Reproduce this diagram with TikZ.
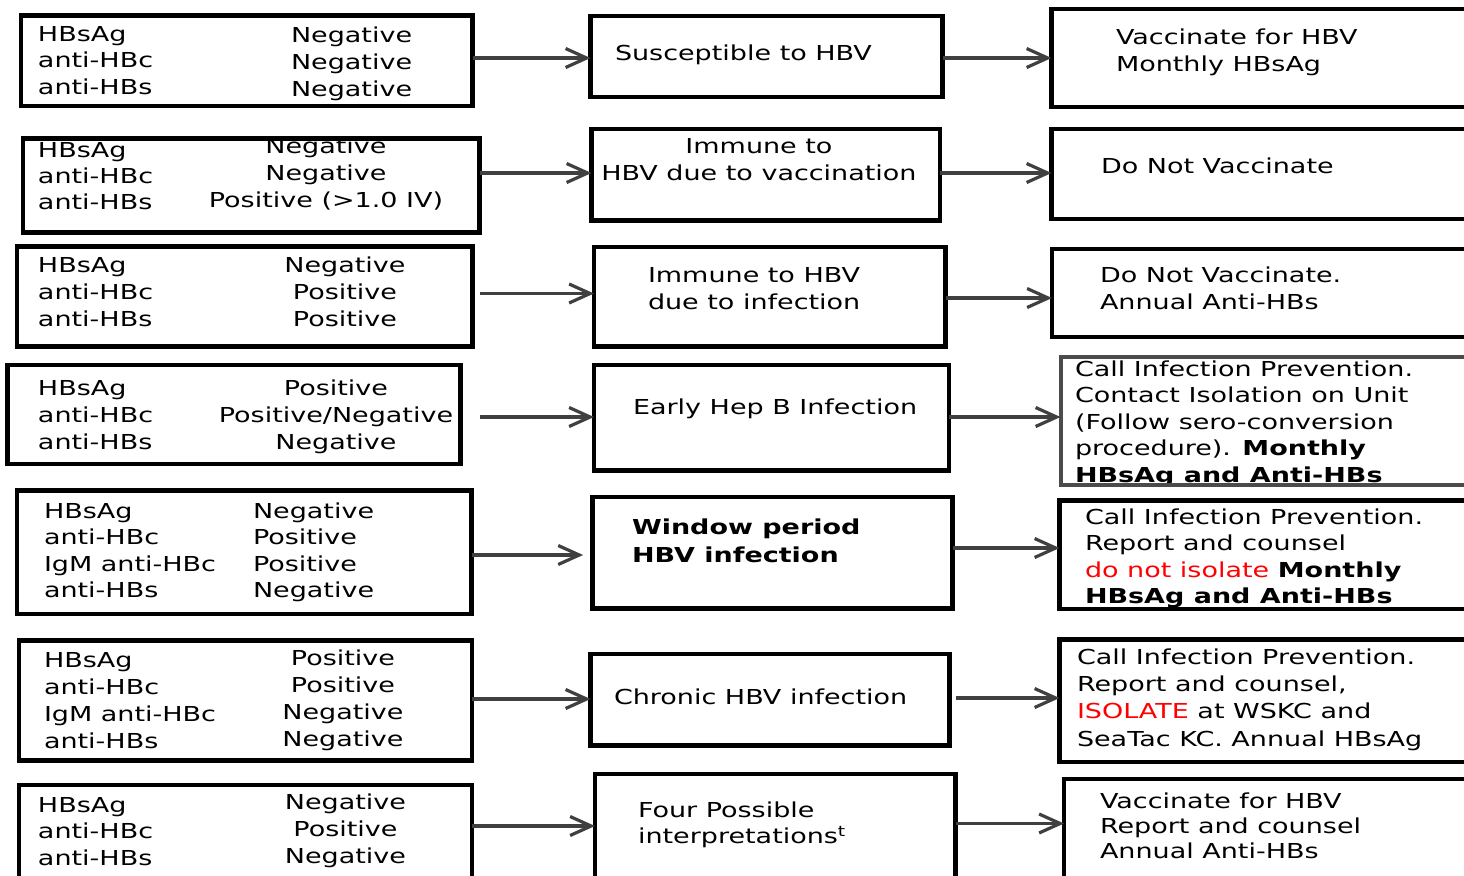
\documentclass[tikz,border=0pt]{standalone}
\usepackage{fontspec}
\setmainfont{DejaVu Sans}[FakeStretch=1.31]
\usetikzlibrary{arrows.meta,fit}
\definecolor{graybox}{RGB}{75,75,75}
\definecolor{arrgray}{RGB}{64,64,64}
\newcommand\tb[3][13.25pt]{{\fontsize{10.3pt}{#1}\selectfont\begin{tabular}[t]{@{}#2@{}}#3\end{tabular}}}
\begin{document}
\begin{tikzpicture}[x=0.5pt,y=-0.5pt,
 txt/.style={anchor=base west,inner sep=0pt,outer sep=0pt},
 ctxt/.style={anchor=base,inner sep=0pt,outer sep=0pt},
 box/.style={draw=black,line width=2.2pt,inner sep=0pt,outer sep=0pt,rectangle},
 gbox/.style={box,draw=graybox,line width=2pt},
 arr/.style={draw=arrgray,line width=1.6pt,-{Straight Barb[length=10.5pt,width=9.5pt]}}]
\useasboundingbox (0,0) rectangle (1464,875);
\clip (0,0) rectangle (1464,875);
\fill[white] (0,0) rectangle (1464,875);

% ---------- left column texts
\node[txt] (l1a) at (38,41) {\tb{l}{HBsAg\\anti-HBc\\anti-HBs}};
\node[txt] (l1b) at (291,42) {\tb[13.5pt]{l}{Negative\\Negative\\Negative}};
\node[txt] (l2a) at (38,157) {\tb[13pt]{l}{HBsAg\\anti-HBc\\anti-HBs}};
\node[ctxt] (l2b) at (326,153) {\tb[13.5pt]{c}{Negative\\Negative\\Positive (>1.0 IV)}};
\node[txt] (l3a) at (38,272) {\tb[13.5pt]{l}{HBsAg\\anti-HBc\\anti-HBs}};
\node[ctxt] (l3b) at (345,272) {\tb[13.5pt]{c}{Negative\\Positive\\Positive}};
\node[txt] (l4a) at (38,395) {\tb[13.5pt]{l}{HBsAg\\anti-HBc\\anti-HBs}};
\node[ctxt] (l4b) at (336,395) {\tb[13.5pt]{c}{Positive\\Positive/Negative\\Negative}};
\node[txt] (l5a) at (44,518) {\tb{l}{HBsAg\\anti-HBc\\IgM anti-HBc\\anti-HBs}};
\node[txt] (l5b) at (253,518) {\tb{l}{Negative\\Positive\\Positive\\Negative}};
\node[txt] (l6a) at (44,667) {\tb[13.5pt]{l}{HBsAg\\anti-HBc\\IgM anti-HBc\\anti-HBs}};
\node[ctxt] (l6b) at (343,665) {\tb[13.5pt]{c}{Positive\\Positive\\Negative\\Negative}};
\node[txt] (l7a) at (38,812) {\tb{l}{HBsAg\\anti-HBc\\anti-HBs}};
\node[ctxt] (l7b) at (345.5,809) {\tb[13.5pt]{c}{Negative\\Positive\\Negative}};

% ---------- middle column texts
\node[txt] (m1t) at (615,60) {\tb{l}{Susceptible to HBV}};
\node[ctxt] (m2t) at (759,153) {\tb[13.5pt]{c}{Immune to\\HBV due to vaccination}};
\node[txt] (m3t) at (648,282) {\tb[13.5pt]{l}{Immune to HBV\\due to infection}};
\node[txt] (m4t) at (633,414) {\tb{l}{Early Hep B Infection}};
\node[txt] (m5t) at (632,534) {\tb[14pt]{l}{\textbf{Window period}\\\textbf{HBV infection}}};
\node[txt] (m6t) at (614,704) {\tb{l}{Chronic HBV infection}};
\node[txt] (m7t) at (638,817) {\tb{l}{Four Possible\\interpretations\textsuperscript{t}}};

% ---------- right column texts
\node[txt] (r1t) at (1116,44) {\tb[13.75pt]{l}{Vaccinate for HBV\\Monthly HBsAg}};
\node[txt] (r2t) at (1101,173) {\tb{l}{Do Not Vaccinate}};
\node[txt] (r3t) at (1100,282) {\tb[13.5pt]{l}{Do Not Vaccinate.\\Annual Anti-HBs}};
\node[txt] (r4t) at (1075,376) {\tb{l}{Call Infection Prevention.\\Contact Isolation on Unit\\(Follow sero-conversion\\procedure). \textbf{Monthly}\\\textbf{HBsAg and Anti-HBs}}};
\node[txt] (r5t) at (1085,524) {\tb{l}{Call Infection Prevention.\\Report and counsel\\{\color{red}do not isolate} \textbf{Monthly}\\\textbf{HBsAg and Anti-HBs}}};
\node[txt] (r6t) at (1077,664) {\tb[13.7pt]{l}{Call Infection Prevention.\\Report and counsel,\\{\color{red}ISOLATE} at WSKC and\\SeaTac KC. Annual HBsAg}};
\node[txt] (r7t) at (1100,808) {\tb[12.5pt]{l}{Vaccinate for HBV\\Report and counsel\\Annual Anti-HBs}};

% ---------- boxes
\node[box,fit={(21,15.5)(472.5,106)}] (L1) {};
\node[box,fit={(23,138.5)(479.5,232.5)}] (L2) {};
\node[box,fit={(17,246.5)(472.5,346.5)}] (L3) {};
\node[box,fit={(7.5,365)(460.5,464)}] (L4) {};
\node[box,fit={(17,490.5)(471.5,614)}] (L5) {};
\node[box,fit={(19,640.5)(472,760.5)}] (L6) {};
\node[box,fit={(19,785)(472,900)}] (L7) {};

\node[box,fit={(590.5,16)(942.5,97)}] (M1) {};
\node[box,fit={(591.5,129)(940,220.5)}] (M2) {};
\node[box,fit={(594,247)(945.5,346.5)}] (M3) {};
\node[box,fit={(594,365)(949,470.5)}] (M4) {};
\node[box,fit={(592.5,497)(952.5,608.5)}] (M5) {};
\node[box,fit={(590.5,654)(949.5,745.5)}] (M6) {};
\node[box,fit={(595,774)(955.5,900)}] (M7) {};

\node[box,fit={(1051.5,9)(1490,107)}] (R1) {};
\node[box,fit={(1051.5,129)(1490,219)}] (R2) {};
\node[box,fit={(1052,249)(1490,337)}] (R3) {};
\node[gbox,fit={(1060.5,356.5)(1490,485)}] (R4) {};
\node[box,fit={(1059.5,500.5)(1490,609)}] (R5) {};
\node[box,fit={(1059.5,639.5)(1490,762)}] (R6) {};
\node[box,fit={(1064,779)(1490,900)}] (R7) {};

% ---------- connectors
\draw[arr] (L1.east |- 0,58) -- (M1.west |- 0,58);
\draw[arr] (M1.east |- 0,58) -- (R1.west |- 0,58);
\draw[arr] (L2.east |- 0,173) -- (M2.west |- 0,173);
\draw[arr] (M2.east |- 0,173) -- (R2.west |- 0,173);
\draw[arr,shorten <=3.7pt] (L3.east |- 0,293.5) -- (M3.west |- 0,293.5);
\draw[arr] (M3.east |- 0,298) -- (R3.west |- 0,298);
\draw[arr,shorten <=9.7pt] (L4.east |- 0,417) -- (M4.west |- 0,417);
\draw[arr] (M4.east |- 0,417) -- (R4.west |- 0,417);
\draw[arr,shorten >=4.7pt] (L5.east |- 0,555) -- (M5.west |- 0,555);
\draw[arr] (M5.east |- 0,548) -- (R5.west |- 0,548);
\draw[arr] (L6.east |- 0,699) -- (M6.west |- 0,699);
\draw[arr,shorten <=3.2pt] (M6.east |- 0,698) -- (R6.west |- 0,698);
\draw[arr] (L7.east |- 0,826) -- (M7.west |- 0,826);
\draw[arr] (M7.east |- 0,823.5) -- (R7.west |- 0,823.5);
\end{tikzpicture}
\end{document}
